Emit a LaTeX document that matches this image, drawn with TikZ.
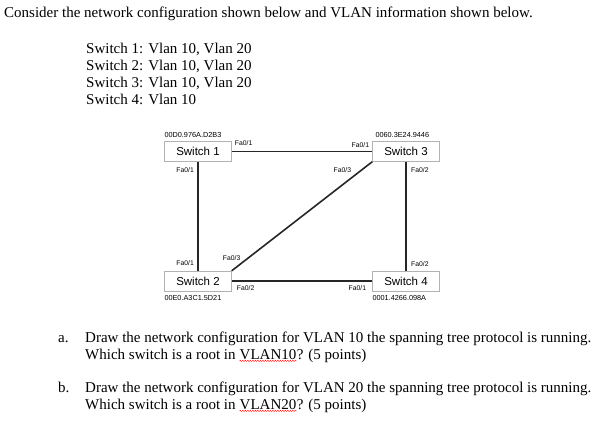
\documentclass[tikz,border=0pt]{standalone}
\usepackage{fontspec}
\setmainfont{Liberation Serif}
\setsansfont{Liberation Sans}
\usetikzlibrary{positioning,decorations.pathmorphing}
\tikzstyle{switch}=[draw=gray!60, fill=white, minimum width=67pt,
    minimum height=20pt, inner sep=0pt, font=\sffamily\fontsize{11.5}{13}\selectfont]
\tikzstyle{port}=[inner sep=0pt, font=\sffamily\fontsize{6.8}{8}\selectfont]
\tikzstyle{mac}=[inner sep=0pt, font=\sffamily\fontsize{7.3}{8}\selectfont]
\tikzstyle{link}=[line width=1.6pt, black!85]
\tikzstyle{txt}=[inner sep=0pt, anchor=base west, font=\fontsize{15}{17}\selectfont]

\begin{document}
\begin{tikzpicture}[x=1pt,y=-1pt]
  \useasboundingbox (0,0) rectangle (597,423);
  \node[txt] at (4,17) (intro) {Consider the network configuration shown below and VLAN information shown below.};
  \node[txt] at (86,53) (v1) {Switch 1: Vlan 10, Vlan 20};
  \node[txt] at (86,70) (v2) {Switch 2: Vlan 10, Vlan 20};
  \node[txt] at (86,87) (v3) {Switch 3: Vlan 10, Vlan 20};
  \node[txt] at (86,104) (v4) {Switch 4: Vlan 10};

  % switches
  \node at (198,151.5) (s1)[switch] {Switch 1};
  \node at (406,151.5) (s3)[switch] {Switch 3};
  \node at (198,281) (s2)[switch] {Switch 2};
  \node at (406,281) (s4)[switch] {Switch 4};

  % links
  \draw[link] (s1) -- (s3);
  \draw[link] (s2) -- (s4);
  \draw[link] (s1) -- (s2);
  \draw[link] (s3) -- (s4);
  \draw[link] (s3.south west) -- (s2.north east);

  % addresses
  \path (s1.north west) +(0,-4) node[mac, anchor=south west] (m1) {00D0.976A.D2B3};
  \path (s3.north west) +(3,-4) node[mac, anchor=south west] (m3) {0060.3E24.9446};
  \path (s2.south west) +(0,4) node[mac, anchor=north west] (m2) {00E0.A3C1.5D21};
  \path (s4.south west) +(0,4) node[mac, anchor=north west] (m4) {0001.4266.098A};

  % ports
  \path (s1.north east) +(3,2) node[port, anchor=west] (p11) {Fa0/1};
  \path (s1.south) +(-4,8) node[port, anchor=east] (p12) {Fa0/1};
  \path (s3.north west) +(-3,4) node[port, anchor=east] (p31) {Fa0/1};
  \path (s3.south west) +(-21,8) node[port, anchor=east] (p33) {Fa0/3};
  \path (s3.south) +(5,8) node[port, anchor=west] (p32) {Fa0/2};
  \path (s2.north) +(-4,-8) node[port, anchor=east] (p21) {Fa0/1};
  \path (s2.north east) +(-9,-13) node[port, anchor=west] (p23) {Fa0/3};
  \path (s2.east) +(5,7) node[port, anchor=west] (p22) {Fa0/2};
  \path (s4.north) +(5,-7) node[port, anchor=west] (p42) {Fa0/2};
  \path (s4.west) +(-6,7) node[port, anchor=east] (p41) {Fa0/1};

  % questions
  \node[txt] at (58,342) (qa) {a.};
  \node[txt] at (85,342) (qa1) {Draw the network configuration for VLAN 10 the spanning tree protocol is running.};
  \node[txt] at (85,359) (qa2) {Which switch is a root in};
  \node[txt] at ([xshift=3.75pt]qa2.base east) (va) {VLAN10};
  \node[txt] at (va.base east) (qa3) {? (5 points)};
  \node[txt] at (58,392) (qb) {b.};
  \node[txt] at (85,392) (qb1) {Draw the network configuration for VLAN 20 the spanning tree protocol is running.};
  \node[txt] at (85,409) (qb2) {Which switch is a root in};
  \node[txt] at ([xshift=3.75pt]qb2.base east) (vb) {VLAN20};
  \node[txt] at (vb.base east) (qb3) {? (5 points)};
  \draw[red, decorate, decoration={snake, amplitude=0.6pt, segment length=2.5pt}]
    ([yshift=-1.5pt]va.south west) -- ([yshift=-1.5pt]va.south east);
  \draw[red, decorate, decoration={snake, amplitude=0.6pt, segment length=2.5pt}]
    ([yshift=-1.5pt]vb.south west) -- ([yshift=-1.5pt]vb.south east);
\end{tikzpicture}
\end{document}
